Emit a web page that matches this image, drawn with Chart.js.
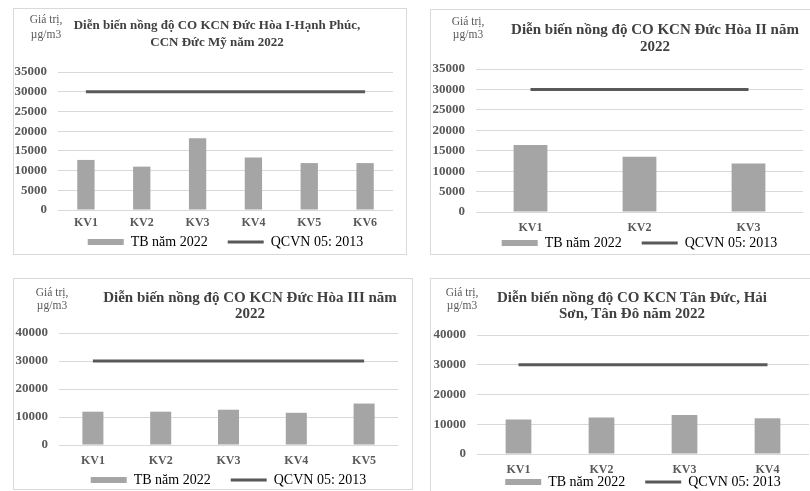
<!DOCTYPE html>
<html>
<head>
<meta charset="utf-8">
<script src="https://cdn.jsdelivr.net/npm/chart.js@4.4.1/dist/chart.umd.min.js"></script>
<style>
  body { margin: 0; width: 810px; height: 491px; overflow: hidden; position: relative; background: #fff; font-family: "Liberation Serif", serif; }
  .panel { position: absolute; border: 1px solid #d9d9d9; box-sizing: border-box; }
  canvas { position: absolute; }
  .txt { position: absolute; white-space: nowrap; text-align: center; transform: translate(-50%, -50%); }
  .ttl { font-weight: bold; color: #404040; }
  .unit { font-size: 11.5px; color: #595959; line-height: 1; }
</style>
</head>
<body>
<script>
// data
const seriesNames = ['TB năm 2022', 'QCVN 05: 2013'];
const unitLines = ['Giá trị,', 'µg/m3'];

const categories1 = ['KV1', 'KV2', 'KV3', 'KV4', 'KV5', 'KV6'];
const tb1 = [12700, 11000, 18200, 13300, 11900, 11900];
const qcvn1 = [30000, 30000, 30000, 30000, 30000, 30000];
const title1 = ['Diễn biến nồng độ CO KCN Đức Hòa I-Hạnh Phúc,', 'CCN Đức Mỹ năm 2022'];

const categories2 = ['KV1', 'KV2', 'KV3'];
const tb2 = [16400, 13500, 11900];
const qcvn2 = [30000, 30000, 30000];
const title2 = ['Diễn biến nồng độ CO KCN Đức Hòa II năm', '2022'];

const categories3 = ['KV1', 'KV2', 'KV3', 'KV4', 'KV5'];
const tb3 = [11900, 11900, 12600, 11500, 14800];
const qcvn3 = [30000, 30000, 30000, 30000, 30000];
const title3 = ['Diễn biến nồng độ CO KCN Đức Hòa III năm', '2022'];

const categories4 = ['KV1', 'KV2', 'KV3', 'KV4'];
const tb4 = [11600, 12300, 13100, 12000];
const qcvn4 = [30000, 30000, 30000, 30000];
const title4 = ['Diễn biến nồng độ CO KCN Tân Đức, Hải', 'Sơn, Tân Đô năm 2022'];

const yTicks35 = [0, 5000, 10000, 15000, 20000, 25000, 30000, 35000];
const yTicks40 = [0, 10000, 20000, 30000, 40000];

const BAR = '#a5a5a5';
const LINE = '#595959';
const GRID = '#d9d9d9';
const LEGEND_FONT = 14;
const LEGEND_PAD = 20;
const XFONT = 12;

// layout of each panel (page pixels)
const panels = [
  { cats: categories1, tb: tb1, qcvn: qcvn1, ticks: yTicks35, title: title1,
    box: [13, 8, 394, 247], plot: [58, 72, 393, 210], xLabelY: 223, legendY: 242,
    titleSize: 13, titleX: 217, titleY: [25, 42], unitX: 46, unitY: [20, 35] },
  { cats: categories2, tb: tb2, qcvn: qcvn2, ticks: yTicks35, title: title2,
    box: [430, 9, 392, 246], plot: [476, 69, 803, 212], xLabelY: 228, legendY: 243,
    titleSize: 15, titleX: 655, titleY: [29, 46], unitX: 468, unitY: [22, 35] },
  { cats: categories3, tb: tb3, qcvn: qcvn3, ticks: yTicks40, title: title3,
    box: [13, 278, 400, 212], plot: [59, 333, 398, 445], xLabelY: 461, legendY: 480,
    titleSize: 15, titleX: 250, titleY: [297, 313], unitX: 52, unitY: [293, 306] },
  { cats: categories4, tb: tb4, qcvn: qcvn4, ticks: yTicks40, title: title4,
    box: [430, 278, 392, 222], plot: [477, 335, 809, 454], xLabelY: 470, legendY: 482,
    titleSize: 15, titleX: 632, titleY: [297, 313], unitX: 462, unitY: [293, 306] }
];

// pull the legend up closer to the axis labels, like the original
const legendShift = {
  id: 'legendShift',
  afterLayout(chart, args, opts) {
    const lg = chart.legend;
    const h = lg.bottom - lg.top;
    lg.top = opts.y - LEGEND_PAD - LEGEND_FONT / 2;
    lg.bottom = lg.top + h;
  }
};

function addText(str, x, y, cls, size) {
  const d = document.createElement('div');
  d.className = 'txt ' + cls;
  d.textContent = str;
  d.style.left = x + 'px';
  d.style.top = y + 'px';
  if (size) d.style.fontSize = size + 'px';
  document.body.appendChild(d);
}

panels.forEach(p => {
  const [bl, bt, bw, bh] = p.box;
  const [pl, pt, pr, pb] = p.plot;

  const frame = document.createElement('div');
  frame.className = 'panel';
  Object.assign(frame.style, { left: bl + 'px', top: bt + 'px', width: bw + 'px', height: bh + 'px' });
  document.body.appendChild(frame);

  const xPad = Math.round(p.xLabelY - pb - XFONT * 0.6);
  const xH = xPad + Math.ceil(XFONT * 1.2) + 2;
  const legendH = LEGEND_FONT + LEGEND_PAD + 10;
  const canvasH = (pb - bt) + xH + legendH;

  const cv = document.createElement('canvas');
  cv.width = bw;
  cv.height = canvasH;
  cv.style.left = bl + 'px';
  cv.style.top = bt + 'px';
  document.body.appendChild(cv);

  new Chart(cv, {
    type: 'bar',
    data: {
      labels: p.cats,
      datasets: [
        { label: seriesNames[0], data: p.tb, backgroundColor: BAR, barPercentage: 0.31, categoryPercentage: 1, order: 2 },
        { type: 'line', label: seriesNames[1], data: p.qcvn, borderColor: LINE, borderWidth: 3, pointRadius: 0, order: 1 }
      ]
    },
    plugins: [legendShift],
    options: {
      responsive: false,
      animation: false,
      devicePixelRatio: 1,
      layout: { padding: { left: 0, top: pt - bt, right: bw - (pr - bl), bottom: 0 } },
      plugins: {
        tooltip: { enabled: false },
        legendShift: { y: p.legendY - bt },
        legend: {
          position: 'bottom',
          fullSize: false,
          labels: {
            usePointStyle: true,
            pointStyleWidth: 36,
            padding: LEGEND_PAD,
            color: '#404040',
            font: { family: 'Liberation Serif', size: LEGEND_FONT },
            generateLabels: chart => chart.data.datasets.map((ds, i) => ({
              text: ds.label,
              fillStyle: i === 0 ? BAR : LINE,
              strokeStyle: i === 0 ? BAR : LINE,
              lineWidth: i === 0 ? 6 : 3,
              pointStyle: 'line',
              hidden: false,
              datasetIndex: i
            }))
          }
        }
      },
      scales: {
        x: {
          grid: { display: false, drawTicks: false },
          border: { display: false },
          ticks: { color: '#595959', padding: xPad, font: { family: 'Liberation Serif', size: XFONT, weight: 'bold' } },
          afterFit: s => { s.height = xH; }
        },
        y: {
          min: 0,
          max: p.ticks[p.ticks.length - 1],
          afterBuildTicks: s => { s.ticks = p.ticks.map(v => ({ value: v })); },
          grid: { color: GRID, drawTicks: false },
          border: { display: false },
          ticks: { color: '#595959', padding: 11, font: { family: 'Liberation Serif', size: 13, weight: 'bold' }, callback: v => String(v) },
          afterFit: s => { s.width = pl - bl; }
        }
      }
    }
  });

  p.title.forEach((line, i) => addText(line, p.titleX, p.titleY[i], 'ttl', p.titleSize));
  unitLines.forEach((line, i) => addText(line, p.unitX, p.unitY[i], 'unit'));
});
</script>
</body>
</html>
